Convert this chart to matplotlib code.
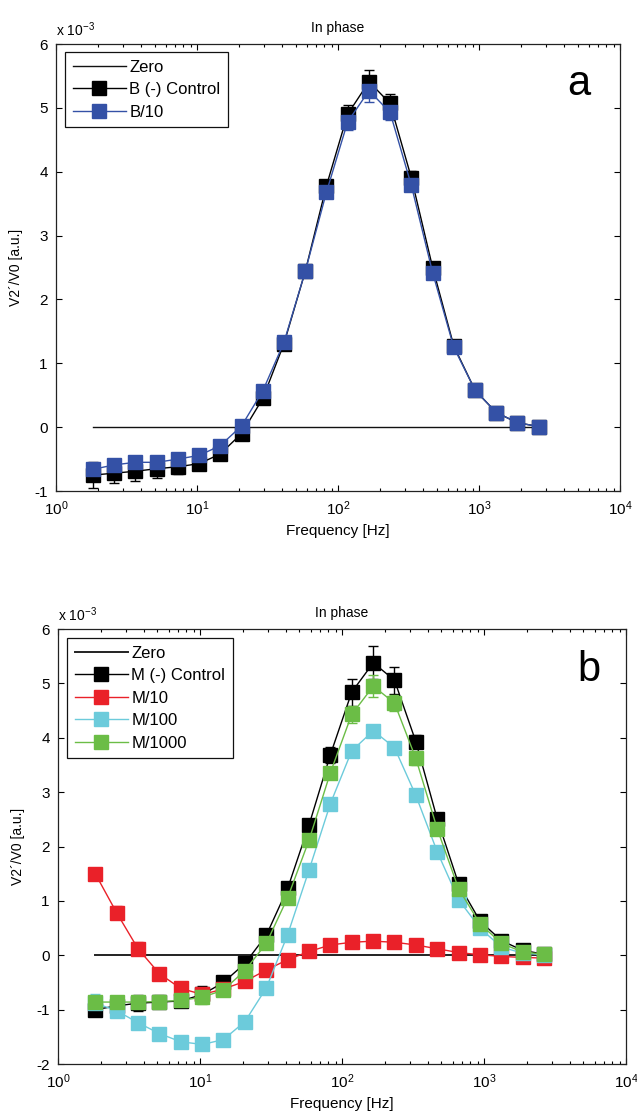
import matplotlib
matplotlib.use("Agg")
import matplotlib.pyplot as plt
from matplotlib.lines import Line2D

plt.rcParams['font.family'] = ['Liberation Sans Narrow', 'Liberation Sans', 'DejaVu Sans']
plt.rcParams['mathtext.fontset'] = 'custom'
plt.rcParams['mathtext.rm'] = 'Liberation Sans'
plt.rcParams['mathtext.default'] = 'regular'
plt.rcParams['axes.unicode_minus'] = False

# frequencies [Hz]
freq = [1.83, 2.59, 3.66, 5.18, 7.32, 10.4, 14.6, 20.7, 29.3, 41.4, 58.6,
        82.8, 117, 166, 234, 331, 469, 663, 937, 1325, 1874, 2650]

# panel a  (values x 1e-3)
b_ctrl = [-0.75, -0.72, -0.69, -0.65, -0.62, -0.57, -0.42, -0.10, 0.45, 1.31, 2.44,
          3.78, 4.90, 5.41, 5.07, 3.91, 2.50, 1.27, 0.58, 0.23, 0.07, 0.01]
b_ctrl_err = [0.20, 0.16, 0.15, 0.14, 0.12, 0.09, 0.07, 0.05, 0.06, 0.05, 0.05,
              0.07, 0.15, 0.18, 0.15, 0.10, 0.06, 0.05, 0.04, 0.03, 0.02, 0.02]
b_10 = [-0.66, -0.59, -0.55, -0.55, -0.50, -0.44, -0.29, 0.02, 0.57, 1.33, 2.44,
        3.68, 4.78, 5.27, 4.93, 3.79, 2.42, 1.25, 0.58, 0.23, 0.07, 0.01]
b_10_err = [0.10, 0.08, 0.07, 0.06, 0.06, 0.05, 0.05, 0.04, 0.05, 0.04, 0.04,
            0.06, 0.12, 0.18, 0.12, 0.07, 0.05, 0.04, 0.03, 0.02, 0.02, 0.02]

# panel b  (values x 1e-3)
m_ctrl = [-1.00, -0.93, -0.88, -0.86, -0.84, -0.72, -0.50, -0.15, 0.37, 1.23, 2.40,
          3.69, 4.84, 5.38, 5.06, 3.93, 2.50, 1.31, 0.63, 0.27, 0.09, 0.02]
m_ctrl_err = [0.08, 0.06, 0.15, 0.10, 0.08, 0.15, 0.08, 0.06, 0.06, 0.06, 0.08,
              0.15, 0.25, 0.30, 0.25, 0.12, 0.08, 0.06, 0.05, 0.04, 0.03, 0.02]
m_10 = [1.50, 0.78, 0.12, -0.34, -0.61, -0.72, -0.62, -0.48, -0.27, -0.08, 0.07,
        0.19, 0.24, 0.26, 0.24, 0.19, 0.12, 0.05, 0.01, -0.02, -0.04, -0.05]
m_10_err = [0.08, 0.12, 0.12, 0.10, 0.06, 0.05, 0.05, 0.05, 0.04, 0.03, 0.03,
            0.03, 0.03, 0.03, 0.03, 0.03, 0.03, 0.03, 0.02, 0.02, 0.02, 0.02]
m_100 = [-0.88, -1.02, -1.24, -1.44, -1.59, -1.64, -1.55, -1.22, -0.60, 0.38, 1.57,
         2.79, 3.76, 4.13, 3.82, 2.94, 1.90, 1.02, 0.50, 0.15, 0.04, 0.01]
m_100_err = [0.17, 0.06, 0.05, 0.04, 0.04, 0.05, 0.08, 0.04, 0.03, 0.03, 0.03,
             0.03, 0.03, 0.03, 0.03, 0.03, 0.03, 0.03, 0.03, 0.02, 0.02, 0.02]
m_1000 = [-0.86, -0.86, -0.86, -0.85, -0.83, -0.77, -0.64, -0.28, 0.22, 1.06, 2.12,
          3.36, 4.43, 4.95, 4.64, 3.62, 2.32, 1.22, 0.58, 0.22, 0.06, 0.02]
m_1000_err = [0.12, 0.10, 0.10, 0.12, 0.10, 0.12, 0.10, 0.08, 0.06, 0.06, 0.06,
              0.10, 0.15, 0.20, 0.15, 0.12, 0.08, 0.06, 0.05, 0.04, 0.03, 0.02]

zero = [0.0] * len(freq)

fig = plt.figure(figsize=(6.37, 11.15), dpi=100)
ax1 = fig.add_axes([0.0879, 0.5596, 0.8854, 0.4009])
ax2 = fig.add_axes([0.0911, 0.0457, 0.8917, 0.3901])

BLACK = '#000000'
BLUE = '#3451a6'
RED = '#ea2129'
CYAN = '#6ccbdb'
GREEN = '#6bbd46'


def series(ax, y, err, color, label):
    ax.errorbar(freq, y, yerr=err, color=color, lw=1.0, marker='s', markersize=9.5,
                markerfacecolor=color, markeredgecolor=color, capsize=3.5,
                elinewidth=1.0, capthick=1.0)
    return Line2D([], [], color=color, lw=1.0, marker='s', markersize=9.5,
                  markerfacecolor=color, markeredgecolor=color, label=label)


def style(ax, ymin, ymax, letter, letter_xy):
    ax.set_xscale('log')
    ax.set_xlim(1, 1e4)
    ax.set_ylim(ymin, ymax)
    ax.set_yticks(range(ymin, ymax + 1))
    ax.tick_params(which='both', direction='in', top=True, right=True,
                   labelsize=11, pad=6, width=0.8)
    ax.tick_params(which='major', length=4)
    ax.tick_params(which='minor', length=2.5)
    for s in ax.spines.values():
        s.set_linewidth(0.9)
        s.set_color('#222222')
    ax.set_title('In phase', fontsize=10, pad=9)
    ax.set_xlabel('Frequency [Hz]', fontsize=11, labelpad=4)
    ax.set_ylabel('V2\u00b4/V0 [a.u.]', fontsize=10, labelpad=8)
    ax.text(0.0, 1.012, 'x 10$^{-3}$', transform=ax.transAxes, fontsize=10,
            ha='left', va='bottom')
    ax.text(letter_xy[0], letter_xy[1], letter, transform=ax.transAxes,
            fontsize=30, ha='center', va='center', family='Liberation Sans')


def legend(ax, handles, anchor):
    leg = ax.legend(handles=handles, loc='upper left', bbox_to_anchor=anchor,
                    borderaxespad=0, fancybox=False, edgecolor='#111111',
                    framealpha=1, fontsize=12, handlelength=3.2,
                    labelspacing=0.45, handletextpad=0.2, borderpad=0.45)
    leg.get_frame().set_linewidth(0.9)


# panel a
h1 = [ax1.plot(freq, zero, color='#111111', lw=1.0, label='Zero')[0]]
h1.append(series(ax1, b_ctrl, b_ctrl_err, BLACK, 'B (-) Control'))
h1.append(series(ax1, b_10, b_10_err, BLUE, 'B/10'))
style(ax1, -1, 6, 'a', (0.927, 0.91))
legend(ax1, h1, (0.016, 0.982))

# panel b
h2 = [ax2.plot(freq, zero, color='#222222', lw=1.4, label='Zero')[0]]
h2.append(series(ax2, m_ctrl, m_ctrl_err, BLACK, 'M (-) Control'))
h2.append(series(ax2, m_10, m_10_err, RED, 'M/10'))
h2.append(series(ax2, m_100, m_100_err, CYAN, 'M/100'))
h2.append(series(ax2, m_1000, m_1000_err, GREEN, 'M/1000'))
style(ax2, -2, 6, 'b', (0.934, 0.905))
legend(ax2, h2, (0.016, 0.979))

fig.savefig('out.png', dpi=100)
